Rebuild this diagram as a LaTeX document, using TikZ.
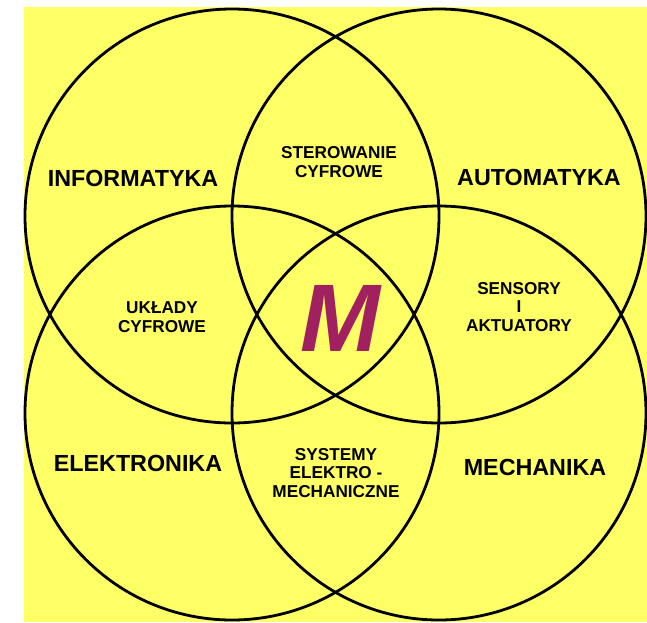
\documentclass[tikz,border=0pt]{standalone}
\usepackage{fontspec}
\setmainfont{Liberation Sans}
\usepackage{tikz}
\definecolor{bgyellow}{RGB}{255,255,102}
\definecolor{mred}{RGB}{160,32,96}

\begin{document}
\begin{tikzpicture}[x=1pt,y=-1pt,
    ring/.style={line width=2.8pt},
    bigtxt/.style={font=\bfseries\fontsize{23.3}{26}\selectfont},
    smalltxt/.style={align=center,font=\bfseries\fontsize{17.2}{18.8}\selectfont}]
        \useasboundingbox (0,0) rectangle (647,622);
        \fill[bgyellow] (24,7) rectangle (647,622);
        % the four fields
        \draw[ring] (232,216) circle[radius=207pt];
        \draw[ring] (439,216) circle[radius=207pt];
        \draw[ring] (232,413) circle[radius=207pt];
        \draw[ring] (439,413) circle[radius=207pt];
\node (inf) at (133,178)[bigtxt]{INFORMATYKA};
\node (aut) at (539,177)[bigtxt]{AUTOMATYKA};
\node (ele) at (138,463)[bigtxt]{ELEKTRONIKA};
\node (mech) at (535,467)[bigtxt]{MECHANIKA};
% overlaps
\node (ster) at (339,162)[smalltxt]{STEROWANIE\\CYFROWE};
\node (ukl) at (162,317)[smalltxt]{UKŁADY\\CYFROWE};
\node (sens) at (519,307)[smalltxt]{SENSORY\\I\\AKTUATORY};
\node (sys) at (336,473)[smalltxt]{SYSTEMY\\ELEKTRO -\\MECHANICZNE};
\node (m) at (340,318)[text=mred,font=\bfseries\itshape\fontsize{96}{100}\selectfont]{M};
\end{tikzpicture}
\end{document}
